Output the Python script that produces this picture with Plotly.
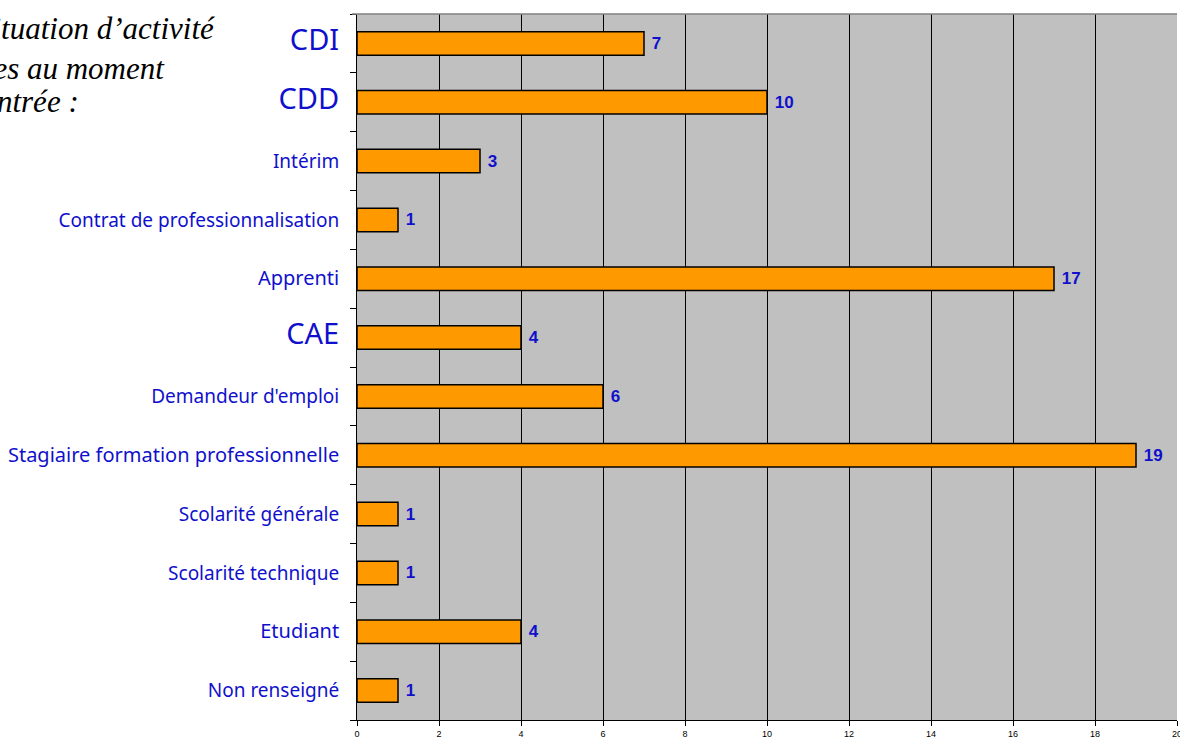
import plotly.graph_objects as go

categories = ["CDI", "CDD", "Intérim", "Contrat de professionnalisation", "Apprenti", "CAE",
              "Demandeur d'emploi", "Stagiaire formation professionnelle", "Scolarité générale",
              "Scolarité technique", "Etudiant", "Non renseigné"]
values = [7, 10, 3, 1, 17, 4, 6, 19, 1, 1, 4, 1]
label_sizes = [29, 29, 19, 19, 20, 29, 19, 20, 19, 19, 20, 19]
x_ticks = [0, 2, 4, 6, 8, 10, 12, 14, 16, 18, 20]
title_lines = ["Situation d’activité", "des stagiaires au moment", "à l’entrée :"]

blue = "#1010CC"
ticktext = [f'<span style="font-size:{s}px">{c}</span>' for c, s in zip(categories, label_sizes)]

W, H = 1180, 740
L, R, T, B = 357, 3, 14, 20
PW, PH = W - L - R, H - T - B

fig = go.Figure(go.Bar(
    y=categories, x=values, orientation="h",
    marker=dict(color="#FF9900", line=dict(color="black", width=1.5)),
    text=["\u00a0" + str(v) for v in values], textposition="outside", constraintext="none",
    textfont=dict(family="Liberation Sans, Arial", size=17, color=blue, weight="bold"),
    cliponaxis=False,
))

fig.update_layout(
    width=W, height=H,
    margin=dict(l=L, r=R, t=T, b=B, autoexpand=False),
    paper_bgcolor="white", plot_bgcolor="#C0C0C0",
    bargap=0.6, showlegend=False,
    xaxis=dict(range=[0, 20], tickvals=x_ticks, ticktext=[str(t) for t in x_ticks],
               showgrid=True, gridcolor="black", gridwidth=1,
               showline=True, linecolor="black", linewidth=1,
               ticks="outside", ticklen=5, tickcolor="black",
               ticklabeloverflow="allow", automargin=False,
               tickfont=dict(family="Liberation Sans, Arial", size=9, color="black"),
               zeroline=False, fixedrange=True),
    yaxis=dict(categoryorder="array", categoryarray=categories, autorange="reversed",
               tickvals=categories, ticktext=ticktext, automargin=False,
               showline=True, linecolor="black", linewidth=1,
               ticks="outside", ticklen=6, tickcolor="black", tickson="boundaries",
               ticklabelstandoff=13,
               tickfont=dict(family="Noto Sans", size=19, color=blue),
               showgrid=False, fixedrange=True),
)

fig.add_shape(type="line", xref="paper", yref="paper", x0=-0.006, x1=1, y0=1, y1=1,
              line=dict(color="#808080", width=1.5))

right_edges = [217, 167, 81]
centers = [29, 68, 102]
for line, xr, yc in zip(title_lines, right_edges, centers):
    fig.add_annotation(text=f"<i>{line}</i>", xref="paper", yref="paper",
                       x=(xr - L) / PW, y=1 - (yc - T) / PH,
                       xanchor="right", yanchor="middle", showarrow=False,
                       font=dict(family="Liberation Serif", size=31, color="black"))

fig.write_html("out.html", config={"displayModeBar": False},
               post_script="document.body.style.margin='0';document.body.style.overflow='hidden';")
